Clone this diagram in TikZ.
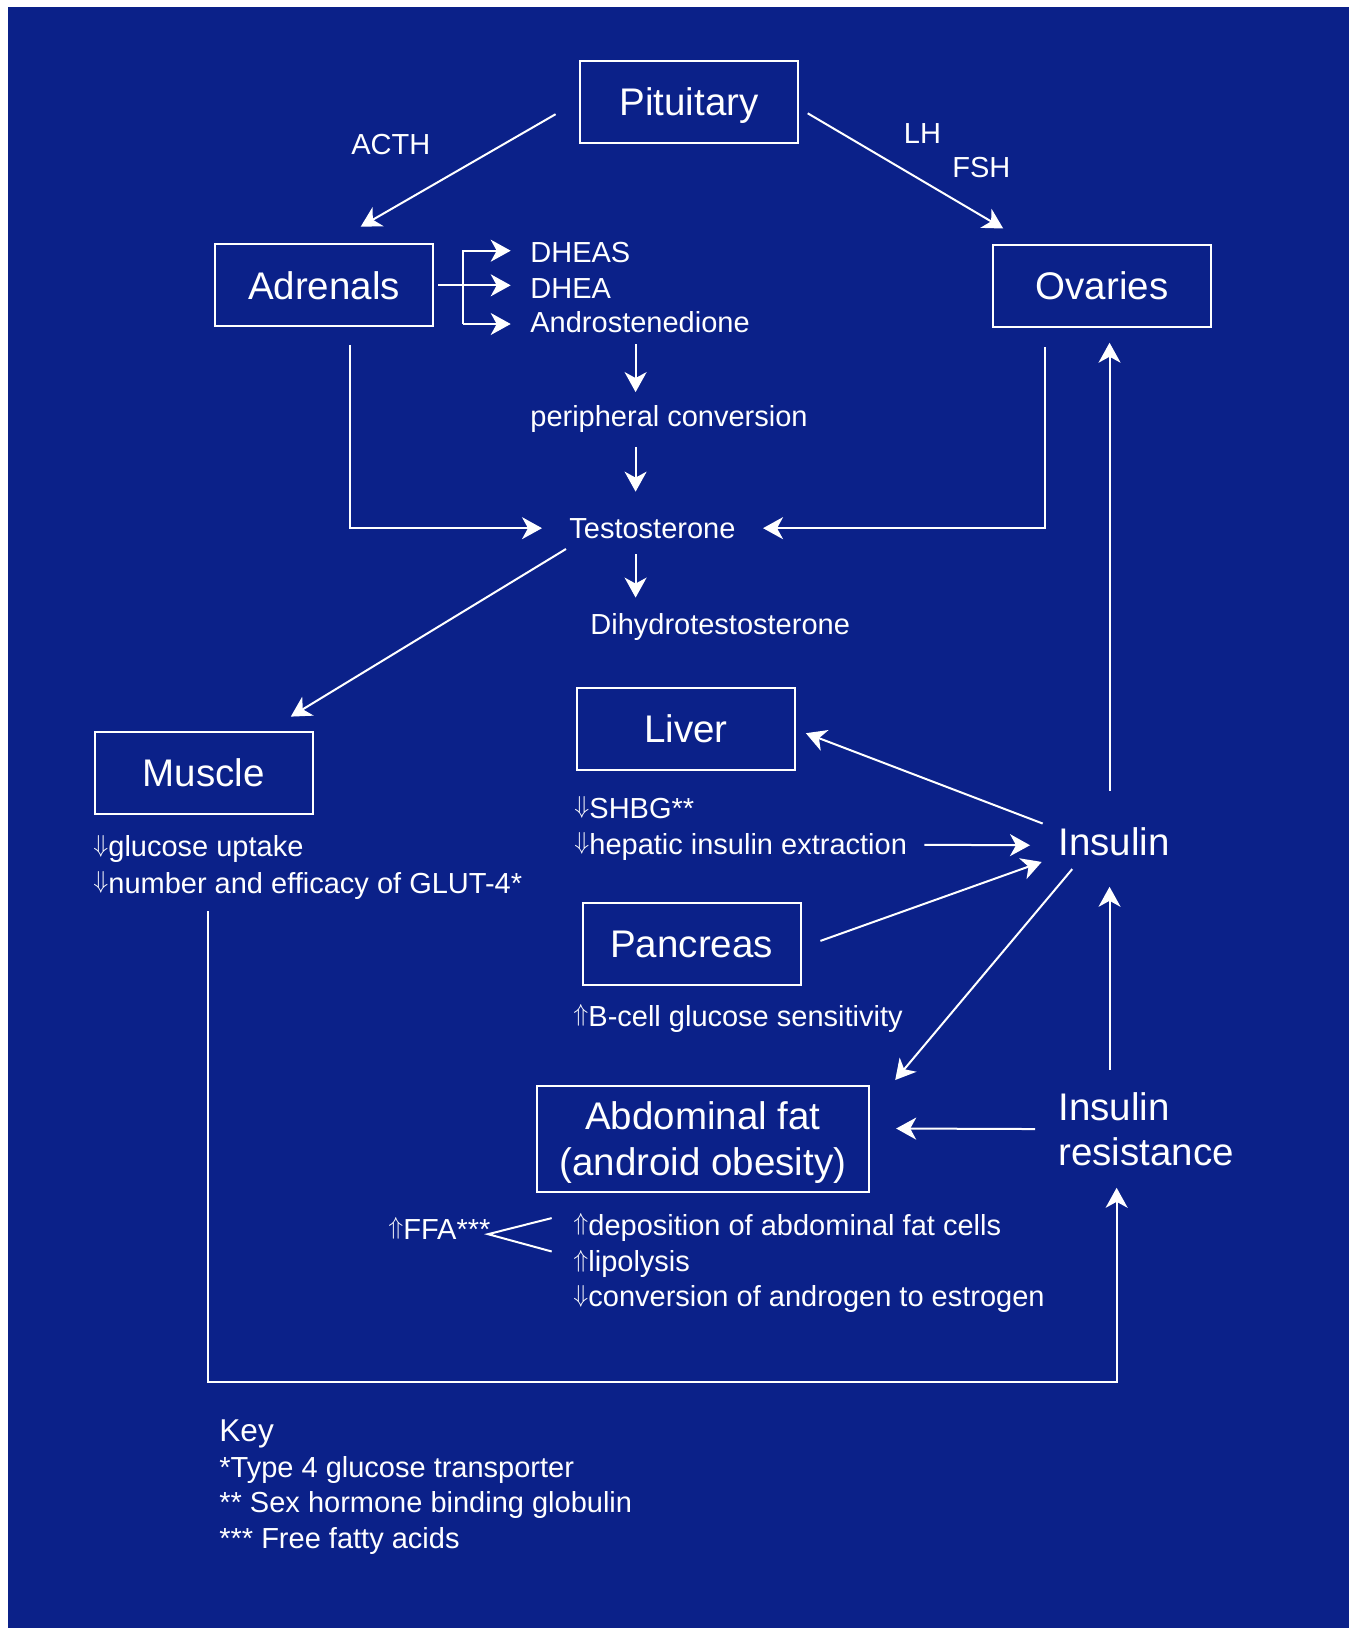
\documentclass[tikz,border=0pt]{standalone}
\usepackage{fontspec}
\setmainfont{Liberation Sans}
\usepackage{graphicx}
\usetikzlibrary{arrows.meta, positioning, calc}
\definecolor{fond}{RGB}{11,33,137}
\newcommand{\hausse}{\raisebox{2.2pt}{\resizebox{7.5pt}{!}{$\Uparrow$}}}
\newcommand{\baisse}{\raisebox{2.2pt}{\resizebox{7.5pt}{!}{$\Downarrow$}}}

\begin{document}
\begin{tikzpicture}[
    x=0.5pt, y=-0.5pt,
    organe/.style={draw=white, line width=1pt, text=white, minimum width=109pt, minimum height=41pt, inner sep=0pt, text depth=0pt, font=\fontsize{19.25}{23}\selectfont},
    texte/.style={text=white, inner sep=0pt, anchor=base west, font=\fontsize{14.5}{17.5}\selectfont},
    grand/.style={texte, font=\fontsize{19.25}{22.5}\selectfont},
    fleche/.style={->, draw=white, line width=1pt},
    trait/.style={draw=white, line width=1pt},
    >={Stealth[length=10pt, width=11pt, inset=3pt]}
]
    % Fond
    \fill[white] (0,0) rectangle (1349,1628);
    \fill[fond] (8,7) rectangle (1349,1628);
    \useasboundingbox (0,0) rectangle (1349,1628);

    % Organes
    \node[organe] (pit) at (689,102) {Pituitary};
    \node[organe] (adr) at (324,285.3) {Adrenals};
    \node[organe] (ova) at (1102,285.5) {Ovaries};
    \node[organe] (mus) at (203.5,772.5) {Muscle};
    \node[organe] (liv) at (686,729) {Liver};
    \node[organe] (pan) at (691.6,944) {Pancreas};
    \node[organe, minimum width=166pt, minimum height=53pt, align=center] (abd) at (703,1139) {Abdominal fat\\(android obesity)};

    % Hormones
    \node[texte] (acth) at (351,154.5) {ACTH};
    \node[texte] (lh) at (903.5,143.5) {LH};
    \node[texte] (fsh) at (952,177) {FSH};
    \node[texte] (dheas) at (530,262.7) {DHEAS};
    \node[texte] (dhea) at (530,298.3) {DHEA};
    \node[texte] (andro) at (530,332.7) {Androstenedione};
    \node[texte] (periph) at (530,426) {peripheral conversion};
    \node[texte] (testo) at (569,538) {Testosterone};
    \node[texte] (dht) at (590,634) {Dihydrotestosterone};

    % Insuline
    \node[grand] (ins) at (1058,855) {Insulin};
    \node[grand, anchor=north west, align=left] (insres) at (1058,1092) {Insulin\\resistance};

    % Effets
    \node[texte] (shbg) at (574,818) {\baisse SHBG**};
    \node[texte] (hep) at (574,854) {\baisse hepatic insulin extraction};
    \node[texte] (bcell) at (573,1026) {\hausse B-cell glucose sensitivity};
    \node[texte] (gluc) at (93,856.7) {\baisse glucose uptake};
    \node[texte] (glut) at (93,893.3) {\baisse number and efficacy of GLUT-4*};
    \node[texte] (ffa) at (388,1239) {\hausse FFA***};
    \node[texte] (depo) at (573,1235) {\hausse deposition of abdominal fat cells};
    \node[texte] (lipo) at (573,1271.7) {\hausse lipolysis};
    \node[texte] (conv) at (573,1306.7) {\baisse conversion of androgen to estrogen};

    % Légende
    \node[texte, font=\fontsize{15.8}{19}\selectfont] (key) at (219,1441.7) {Key};
    \node[texte] (key1) at (219,1477.7) {*Type 4 glucose transporter};
    \node[texte] (key2) at (219,1512.7) {** Sex hormone binding globulin};
    \node[texte] (key3) at (219,1548) {*** Free fatty acids};

    % Flèches depuis Pituitary
    \draw[fleche] ($(pit.west)+(-23.4,12.2)$) -- ($(adr.north)+(36.7,-16.6)$);
    \draw[fleche] ($(pit.east)+(8.7,11.3)$) -- ($(ova.north)+(-98.8,-15)$);

    % Adrenals -> DHEAS, DHEA, Androstenedione
    \coordinate (fourche) at ($(adr.east)+(28.7,0)$);
    \coordinate (pdheas) at ($(dheas.base west)+(-19.3,-12)$);
    \coordinate (pdhea) at ($(dhea.base west)+(-19.3,-13)$);
    \coordinate (pandro) at ($(andro.base west)+(-19.3,-8.7)$);
    \draw[fleche] ($(adr.east)+(4,0)$) -- (pdhea);
    \draw[fleche] (fourche |- pandro) -- (fourche |- pdheas) -- (pdheas);
    \draw[fleche] (fourche |- pandro) -- (pandro);

    % Conversion périphérique
    \coordinate (colonne) at (635.6,0);
    \draw[fleche] ($(colonne |- andro.south)+(0,11)$) -- ($(colonne |- periph.north)+(0,-12.5)$);
    \draw[fleche] ($(colonne |- periph.south)+(0,14.5)$) -- ($(colonne |- testo.north)+(0,-26)$);
    \draw[fleche] ($(colonne |- testo.south)+(0,15.5)$) -- ($(colonne |- dht.north)+(0,-15)$);

    % Vers Testosterone
    \draw[fleche] ($(adr.south)+(26,17.5)$) |- ($(testo.west)+(-27,0)$);
    \draw[fleche] ($(ova.south)+(-57.3,19.4)$) |- ($(testo.east)+(27.2,0)$);
    \draw[fleche] ($(testo.south west)+(-3,10.3)$) -- ($(mus.north)+(87.3,-13.9)$);

    % Autour de Insulin
    \draw[fleche] ($(ins.west)+(-15.3,-17.7)$) -- ($(liv.east)+(9.9,4.2)$);
    \draw[fleche] ($(hep.east)+(17,-1.5)$) -- ($(ins.west)+(-28,4)$);
    \draw[fleche] ($(pan.east)+(18.8,-3.1)$) -- ($(ins.west)+(-16.3,20.7)$);
    \draw[fleche] ($(ins.south)+(-41.8,13.3)$) -- ($(abd.north east)+(25.2,-5)$);
    \draw[fleche] ($(ins.north)+(-4.5,-36)$) -- ($(ins.north |- ova.south)+(-4.5,15.2)$);
    \draw[fleche] ($(ins.south |- insres.north)+(-4.5,-22.3)$) -- ($(ins.south)+(-4.5,31)$);
    \draw[fleche] ($(insres.west)+(-23,0)$) -- ($(abd.east)+(26.2,-10.5)$);

    % Muscle -> Insulin resistance
    \coordinate (bas) at (660,1381.7);
    \draw[fleche] ($(glut.south west)+(115.3,11.7)$) |- (bas) -| ($(insres.south)+(-29.5,21.7)$);

    % FFA
    \draw[trait] ($(depo.west)+(-21.3,-9.2)$) -- ($(ffa.east)+(-2.8,5.7)$) -- ($(lipo.west)+(-21.3,-12.5)$);

\end{tikzpicture}
\end{document}
